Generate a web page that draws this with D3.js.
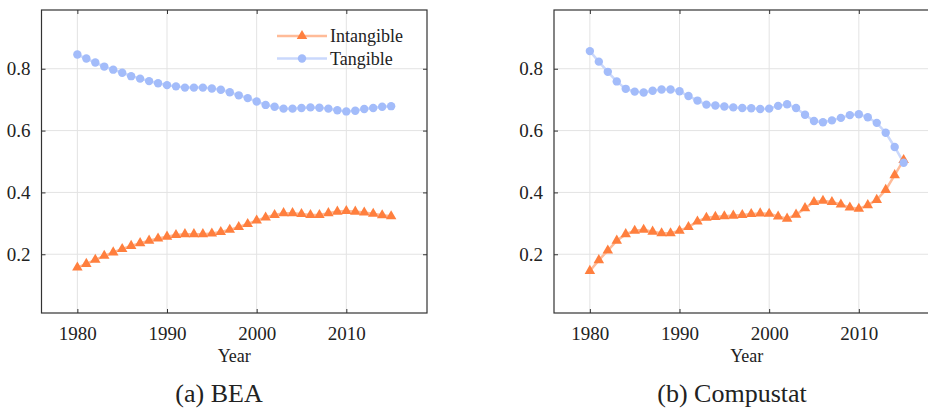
<!DOCTYPE html>
<html>
<head>
<meta charset="utf-8">
<script src="https://cdn.jsdelivr.net/npm/d3@7"></script>
<style>
  html, body { margin: 0; padding: 0; background: #fff; }
  svg { display: block; }
  svg text { font-family: "Liberation Serif", "Times New Roman", Times, "DejaVu Serif", serif !important; fill: #222; }
</style>
</head>
<body>
<svg id="chart" width="928" height="409"></svg>
<script>
// Years covered by both panels
const years = d3.range(1980, 2016);

// BEA capital shares
const beaIntangible = [0.157, 0.169, 0.182, 0.195, 0.206, 0.217, 0.227, 0.236, 0.244, 0.251,
  0.257, 0.262, 0.265, 0.265, 0.265, 0.267, 0.272, 0.279, 0.288, 0.298,
  0.309, 0.319, 0.327, 0.333, 0.333, 0.330, 0.327, 0.327, 0.333, 0.338,
  0.340, 0.338, 0.335, 0.331, 0.326, 0.323];
const beaTangible = [0.846, 0.833, 0.820, 0.807, 0.797, 0.787, 0.776, 0.768, 0.760, 0.753,
  0.747, 0.743, 0.739, 0.739, 0.739, 0.736, 0.732, 0.724, 0.714, 0.705,
  0.694, 0.683, 0.677, 0.671, 0.671, 0.673, 0.675, 0.674, 0.671, 0.666,
  0.662, 0.664, 0.670, 0.673, 0.677, 0.679];

// Compustat capital shares
const compIntangible = [0.146, 0.181, 0.212, 0.244, 0.265, 0.276, 0.279, 0.273, 0.268, 0.268,
  0.276, 0.288, 0.306, 0.318, 0.321, 0.323, 0.325, 0.327, 0.330, 0.332,
  0.331, 0.322, 0.315, 0.328, 0.349, 0.369, 0.373, 0.369, 0.361, 0.351,
  0.347, 0.359, 0.376, 0.408, 0.456, 0.505];
const compTangible = [0.857, 0.823, 0.790, 0.759, 0.735, 0.726, 0.723, 0.729, 0.733, 0.733,
  0.727, 0.712, 0.697, 0.684, 0.681, 0.678, 0.675, 0.673, 0.672, 0.670,
  0.671, 0.680, 0.685, 0.673, 0.651, 0.631, 0.627, 0.633, 0.641, 0.650,
  0.653, 0.643, 0.625, 0.593, 0.547, 0.496];

const xTicks = [1980, 1990, 2000, 2010];
const yTicks = [0.2, 0.4, 0.6, 0.8];
const seriesNames = ["Intangible", "Tangible"];
const captions = ["(a) BEA", "(b) Compustat"];

const colors = {
  Intangible: { marker: "#ff7f3e", line: "#ffbb98" },
  Tangible:   { marker: "#a3bcfa", line: "#cad8fc" }
};

const serif = "'Liberation Serif', 'Times New Roman', Times, 'DejaVu Serif', serif";
const svg = d3.select("#chart").attr("font-family", serif);

const panels = [
  { left: 41.5, right: 427, captionX: 219, data: { Intangible: beaIntangible, Tangible: beaTangible }, legend: true },
  { left: 554, right: 939.5, captionX: 732, data: { Intangible: compIntangible, Tangible: compTangible }, legend: false }
];
const plotTop = 10, plotBottom = 313;

panels.forEach((p, i) => {
  const g = svg.append("g");
  const x = d3.scaleLinear().domain([1976, 2019]).range([p.left, p.right]);
  const y = d3.scaleLinear().domain([0.01, 0.99]).range([plotBottom, plotTop]);

  // grid
  g.append("g").selectAll("line").data(xTicks).join("line")
    .attr("x1", d => x(d)).attr("x2", d => x(d))
    .attr("y1", plotTop).attr("y2", plotBottom)
    .attr("stroke", "#e3e3e3").attr("stroke-width", 1);
  g.append("g").selectAll("line").data(yTicks).join("line")
    .attr("x1", p.left).attr("x2", p.right)
    .attr("y1", d => y(d)).attr("y2", d => y(d))
    .attr("stroke", "#e3e3e3").attr("stroke-width", 1);

  // axes (ticks inward, mirrored on top/right)
  const tickLen = 4;
  const bottomAxis = d3.axisBottom(x).tickValues(xTicks).tickFormat(d3.format("d"))
    .tickSizeInner(-tickLen).tickSizeOuter(0).tickPadding(14);
  const leftAxis = d3.axisLeft(y).tickValues(yTicks).tickFormat(d3.format(".1f"))
    .tickSizeInner(-tickLen).tickSizeOuter(0).tickPadding(11);
  const topAxis = d3.axisTop(x).tickValues(xTicks).tickFormat("")
    .tickSizeInner(-tickLen).tickSizeOuter(0);
  const rightAxis = d3.axisRight(y).tickValues(yTicks).tickFormat("")
    .tickSizeInner(-tickLen).tickSizeOuter(0);

  const styleAxis = sel => {
    sel.attr("font-family", serif).attr("font-size", 19);
    sel.select(".domain").remove();
    sel.selectAll("line").attr("stroke", "#333");
    sel.selectAll("text").attr("fill", "#222").attr("font-family", serif);
  };
  g.append("g").attr("transform", `translate(0,${plotBottom})`).call(bottomAxis).call(styleAxis);
  g.append("g").attr("transform", `translate(${p.left},0)`).call(leftAxis).call(styleAxis);
  g.append("g").attr("transform", `translate(0,${plotTop})`).call(topAxis).call(styleAxis);
  g.append("g").attr("transform", `translate(${p.right},0)`).call(rightAxis).call(styleAxis);

  // frame
  g.append("rect")
    .attr("x", p.left).attr("y", plotTop)
    .attr("width", p.right - p.left).attr("height", plotBottom - plotTop)
    .attr("fill", "none").attr("stroke", "#333").attr("stroke-width", 1.2);

  // series
  const line = d3.line().x((d, j) => x(years[j])).y(d => y(d));
  const tri = d3.symbol().type(d3.symbolTriangle).size(48);
  seriesNames.forEach(name => {
    const vals = p.data[name];
    g.append("path").datum(vals)
      .attr("d", line).attr("fill", "none")
      .attr("stroke", colors[name].line).attr("stroke-width", 2.5);
  });
  seriesNames.forEach(name => {
    const vals = p.data[name];
    const mk = g.append("g");
    if (name === "Intangible") {
      mk.selectAll("path").data(vals).join("path")
        .attr("d", tri)
        .attr("transform", (d, j) => `translate(${x(years[j])},${y(d)})`)
        .attr("fill", colors[name].marker);
    } else {
      mk.selectAll("circle").data(vals).join("circle")
        .attr("cx", (d, j) => x(years[j])).attr("cy", d => y(d))
        .attr("r", 4.2).attr("fill", colors[name].marker);
    }
  });

  // axis title
  g.append("text")
    .attr("x", (p.left + p.right) / 2).attr("y", 362)
    .attr("text-anchor", "middle").attr("font-size", 18)
    .attr("font-family", serif)
    .text("Year");

  // caption
  g.append("text")
    .attr("x", p.captionX).attr("y", 402)
    .attr("text-anchor", "middle").attr("font-size", 26)
    .attr("font-family", serif)
    .text(captions[i]);

  // legend
  if (p.legend) {
    const lg = g.append("g");
    seriesNames.forEach((name, k) => {
      const ly = 36 + k * 22.5;
      lg.append("line").attr("x1", 277).attr("x2", 327).attr("y1", ly).attr("y2", ly)
        .attr("stroke", colors[name].line).attr("stroke-width", 2.5);
      if (name === "Intangible") {
        lg.append("path").attr("d", tri).attr("transform", `translate(302,${ly})`)
          .attr("fill", colors[name].marker);
      } else {
        lg.append("circle").attr("cx", 302).attr("cy", ly).attr("r", 4.2)
          .attr("fill", colors[name].marker);
      }
      lg.append("text").attr("x", 330).attr("y", ly).attr("dy", "0.35em")
        .attr("font-size", 18).attr("font-family", serif).text(name);
    });
  }
});
</script>
</body>
</html>
